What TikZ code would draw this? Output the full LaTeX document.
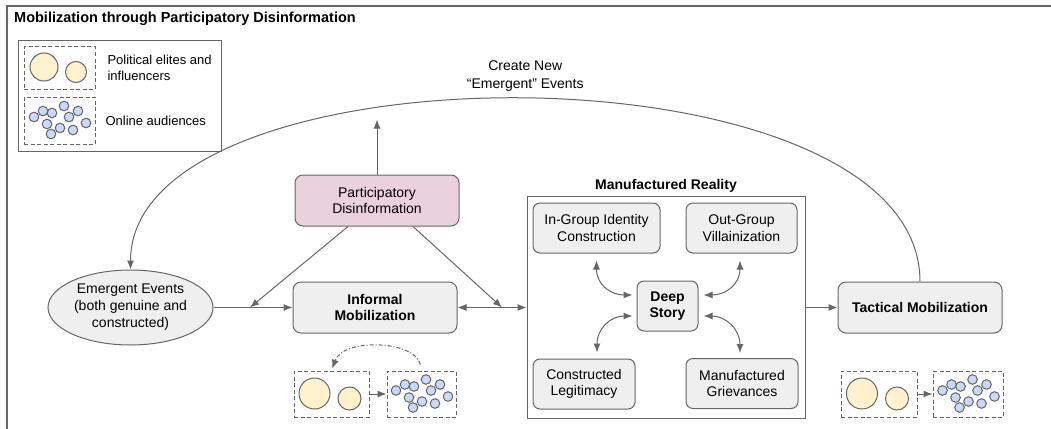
\documentclass[tikz,border=0pt]{standalone}
\usepackage{fontspec}
\setmainfont{Liberation Sans}
\usepackage{tikz}
\usetikzlibrary{arrows.meta,shapes.geometric,positioning}
\usepackage{xcolor}
\definecolor{mrgray}{RGB}{102,102,102}
\definecolor{mrbox}{RGB}{239,239,239}
\definecolor{mrpink}{RGB}{234,209,220}
\definecolor{mryellow}{RGB}{255,242,204}
\definecolor{mrblue}{RGB}{201,218,248}
\tikzstyle{stage} = [rectangle, rounded corners=8pt, minimum width=164pt, minimum height=51pt, align=center, draw=mrgray, fill=mrbox, line width=1pt, font=\fontsize{14}{16.5}\selectfont]
\tikzstyle{boldstage} = [stage, font=\fontsize{14}{16.5}\selectfont\bfseries]
\tikzstyle{facet} = [rectangle, rounded corners=7pt, minimum height=50pt, align=center, draw=mrgray, fill=mrbox, line width=1pt, font=\fontsize{14}{16.5}\selectfont]
\tikzstyle{crowd} = [rectangle, minimum height=46pt, draw=mrgray, dash pattern=on 4pt off 2.5pt, line width=1pt]
\tikzstyle{elite} = [draw=mrgray, fill=mryellow, line width=1pt]
\tikzstyle{follower} = [draw=mrgray, fill=mrblue, line width=1pt]
\tikzstyle{arrow} = [line width=1pt, ->, >={Latex[length=9pt,width=7pt]}, color=mrgray]
\tikzstyle{dblarrow} = [arrow, <->]

\begin{document}
\begin{tikzpicture}[x=1pt, y=-1pt]
\useasboundingbox (0,0) rectangle (1051,428);
\clip (0,0) rectangle (1051,428);
% Frame and title
\draw[mrgray, line width=1.6pt] (7,6) rectangle (1090,470);
\node (title) [anchor=west, inner sep=0pt, font=\fontsize{14.5}{17}\selectfont\bfseries] at (14,19) {Mobilization through Participatory Disinformation};

% Legend
\node (legend) [draw=mrgray, line width=1pt, minimum width=203pt, minimum height=110pt] at (119.5,96) {};
\node (keyA) [crowd, minimum width=71pt, minimum height=42pt] at (59.5,68) {};
\node (keyB) [crowd, minimum width=71pt, minimum height=47pt] at (59.5,120.5) {};
\draw[elite] ([shift={(-15.5,-1)}]keyA.center) circle (14pt);
\draw[elite] ([shift={(16.5,4)}]keyA.center) circle (10.5pt);
\node (keyAtext) [right=8.5pt of keyA, align=left, font=\fontsize{13}{15.7}\selectfont] {Political elites and\\influencers};
\node (keyBtext) [right=6.5pt of keyB, font=\fontsize{13}{15.7}\selectfont] {Online audiences};

% Main flow
\node (ee) [ellipse, draw=mrgray, fill=mrbox, line width=1pt, minimum width=165pt, minimum height=75pt, inner sep=0pt, align=center, font=\fontsize{14}{17}\selectfont] at (130.5,307.5) {Emergent Events\\(both genuine and\\constructed)};
\node (pd) [stage, fill=mrpink] at (377,200.5) {Participatory\\Disinformation};
\node (im) [boldstage] at (375,307.5) {Informal\\Mobilization};
\node (tm) [boldstage] at (920,307.5) {Tactical Mobilization};

% Manufactured reality
\node (mr) [draw=mrgray, line width=1pt, minimum width=278pt, minimum height=222pt] at (666,307.5) {};
\node (mrtitle) [above=0pt of mr, font=\fontsize{14}{16.5}\selectfont\bfseries] {Manufactured Reality};
\node (ig) [facet, minimum width=127pt] at (596.5,228) {In-Group Identity\\Construction};
\node (og) [facet, minimum width=111pt] at (741.5,228) {Out-Group\\Villainization};
\node (ds) [facet, minimum width=61pt, font=\fontsize{14}{16.5}\selectfont\bfseries] at (667.5,306) {Deep\\Story};
\node (cl) [facet, minimum width=102pt] at (584,384) {Constructed\\Legitimacy};
\node (mg) [facet, minimum width=112pt] at (742,383.5) {Manufactured\\Grievances};

\draw[dblarrow] ([yshift=-7pt]ig.south) .. controls +(0,24) and +(-22,0) .. ([shift={(-4pt,11pt)}]ds.west);
\draw[dblarrow] ([shift={(-1.5pt,-7pt)}]og.south) .. controls +(0,24) and +(22,0) .. ([shift={(5pt,11pt)}]ds.east);
\draw[dblarrow] ([shift={(13pt,6pt)}]cl.north) .. controls +(0,-24) and +(-22,0) .. ([shift={(-4pt,-10pt)}]ds.west);
\draw[dblarrow] ([shift={(-2pt,5pt)}]mg.north) .. controls +(0,-24) and +(22,0) .. ([shift={(5pt,-10pt)}]ds.east);

% Connectors
\coordinate (j1) at (250,307.5);
\coordinate (j2) at (502,307.5);
\coordinate (spawn) at ([yshift=55pt]pd.north);
\draw[arrow] (ee.east) -- (im.west);
\draw[arrow] ([xshift=-29pt]pd.south) -- (j1);
\draw[arrow] ([xshift=36pt]pd.south) -- (j2);
\draw[dblarrow] (im.east) -- (mr.west);
\draw[arrow] (mr.east) -- (tm.west);
\draw[arrow] (pd.north) -- (spawn);
\draw[arrow] (tm.north) .. controls +(0,-242) and +(0,-229) .. (ee.north)
  node[pos=0.5, above=4pt, align=center, text=black, font=\fontsize{14}{18}\selectfont] (newev) {Create New\\“Emergent” Events};

% Audience groups
\node (grpA) [crowd, minimum width=75pt] at (331.5,394) {};
\node (grpB) [crowd, minimum width=69pt] at (421.5,394) {};
\node (grpC) [crowd, minimum width=76pt] at (879,394) {};
\node (grpD) [crowd, minimum width=70pt] at (968,394) {};
\foreach \g in {grpA,grpC} {
  \draw[elite] ([shift={(-17,-0.5)}]\g.center) circle (15.5pt);
  \draw[elite] ([shift={(18,4.5)}]\g.center) circle (11.5pt);
}
\foreach \g in {keyB,grpB,grpD}
  \foreach \dx/\dy in {-25.5/-3.5, -16.5/-9.5, -7.5/-7.5, 4.5/-14.5, 18.5/-9.5, 9.5/-3.5, -12.5/3.5, 0.5/7.5, 26.5/2.5, 13.5/9.5, -8.5/13.5}
    \draw[follower] ([shift={(\dx,\dy)}]\g.center) circle (4.8pt);
\draw[arrow] (grpA) -- (grpB);
\draw[arrow] (grpC) -- (grpD);
\draw[arrow, dash pattern=on 4pt off 2pt on 1pt off 2pt, shorten <=6pt, shorten >=2pt] (grpB.north) .. controls +(-6,-30) and +(12,-33) .. (grpA.north);
\end{tikzpicture}
\end{document}
